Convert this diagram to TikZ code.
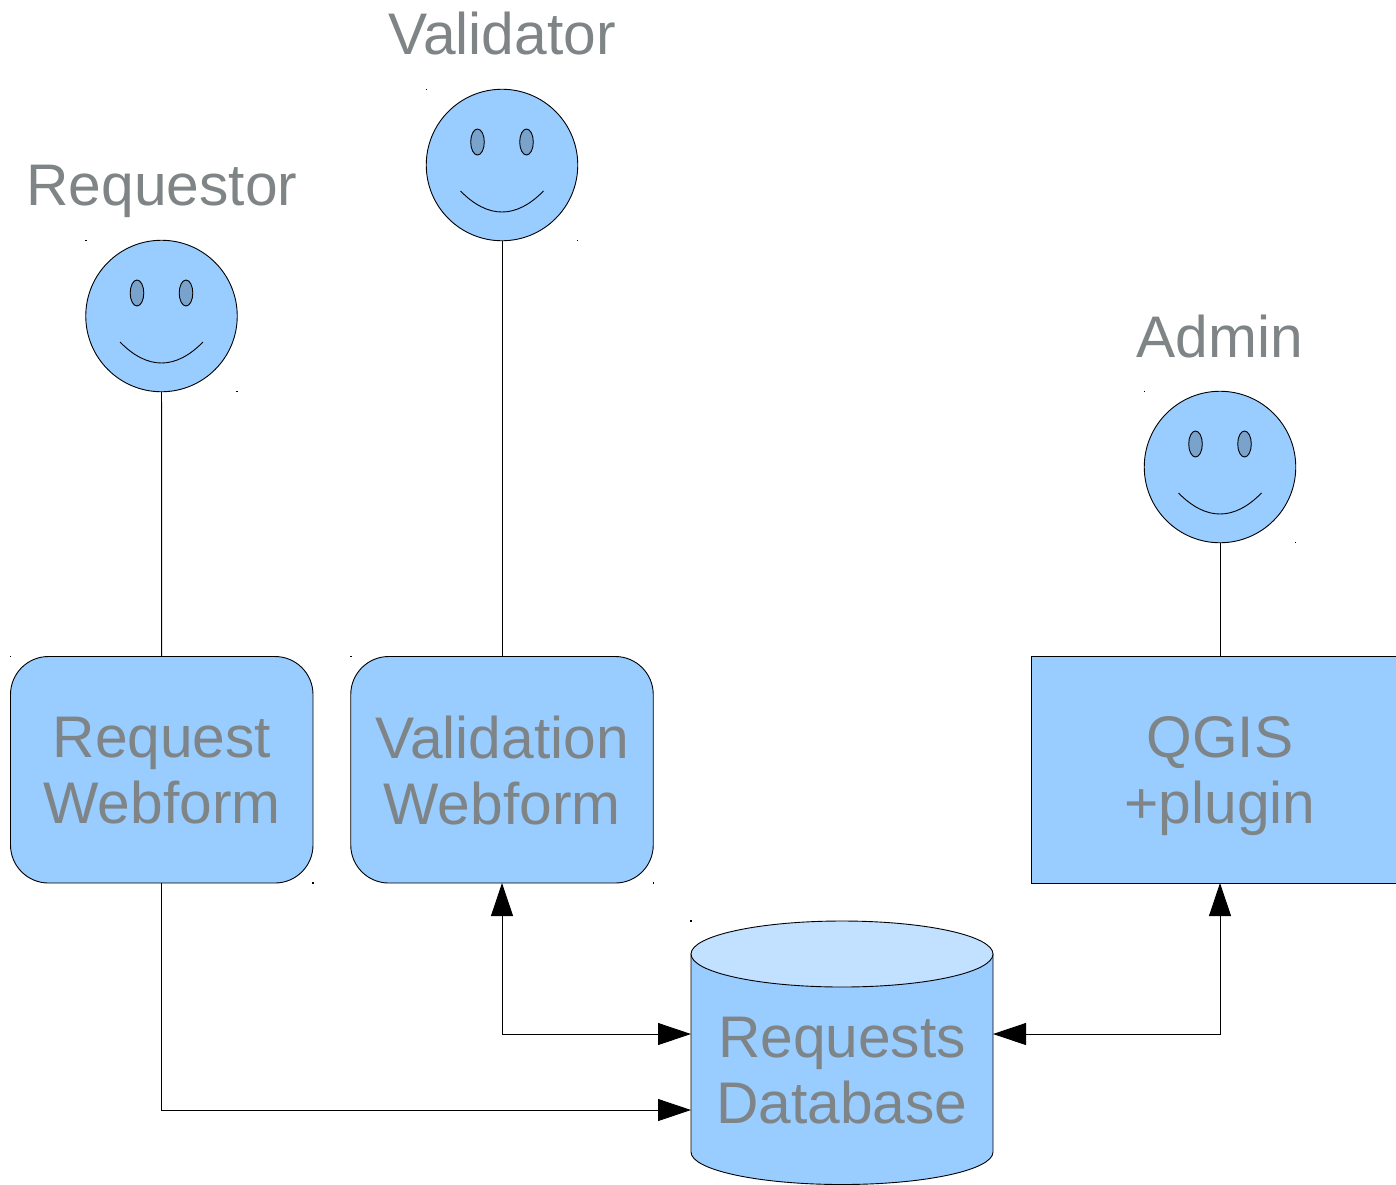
\documentclass[tikz,border=0pt]{standalone}
\usepackage{fontspec}
\setmainfont{Liberation Sans}
\usetikzlibrary{arrows.meta,calc}
\definecolor{bodyblue}{HTML}{99CCFF}
\definecolor{topblue}{HTML}{C2E0FF}
\definecolor{eyeblue}{HTML}{7AA3CC}
\definecolor{labelgray}{HTML}{7F8486}
\tikzset{
  x=1pt,y=-1pt,
  line/.style={draw=black,line width=0.9pt},
  conn/.style={line,{Triangle[length=33pt,width=22pt]}-{Triangle[length=33pt,width=22pt]}},
  connend/.style={line,-{Triangle[length=33pt,width=22pt]}},
  face/.style={circle,line,fill=bodyblue,minimum size=151.5pt,inner sep=0pt,outer sep=0pt},
  eye/.style={line,fill=eyeblue},
  speck/.style={fill=black,inner sep=0pt,minimum size=1.5pt,draw=none},
  roundbox/.style={line,fill=bodyblue,rounded corners=38pt,minimum width=302.5pt,minimum height=226.5pt,inner sep=0pt,outer sep=0pt},
  squarebox/.style={line,fill=bodyblue,minimum height=226.5pt,inner sep=0pt,outer sep=0pt},
  boxtext/.style={text=labelgray,align=center,font=\fontsize{58.7}{65.5}\selectfont,inner sep=0pt},
  actor/.style={text=labelgray,font=\fontsize{58.7}{65.5}\selectfont,inner sep=0pt,anchor=base},
}
\newcommand{\smiley}[3]{%
  \node[face] (#1) at (#2,#3) {};
  \draw[eye] (#2-24.5,#3-23) ellipse [x radius=6.8,y radius=13];
  \draw[eye] (#2+24.5,#3-23) ellipse [x radius=6.8,y radius=13];
  \draw[line] (#2-41.5,#3+26) .. controls (#2-14,#3+54) and (#2+14,#3+54) .. (#2+41.5,#3+26);
  \node[speck] (#1tl) at (#2-75.5,#3-75.5) {};
  \node[speck] (#1br) at (#2+75.5,#3+75.5) {};
}
\begin{document}
\begin{tikzpicture}
\useasboundingbox (0,0) rectangle (1396,1184);
% actors
\smiley{requestor}{161.5}{316}
\smiley{validator}{502}{165}
\smiley{admin}{1220}{467}
\node[actor] (lreq) at (162,205) {Requestor};
\node[actor] (lval) at (502,54) {Validator};
\node[actor] (ladm) at (1220,357) {Admin};
% boxes
\node[roundbox] (reqbox) at (161.75,769.75) {};
\node[roundbox] (valbox) at (502,769.75) {};
\node[squarebox,minimum width=366pt] (qgis) at (1214,769.75) {};
\node[boxtext] (reqtxt) at (162,770.5) {Request\\Webform};
\node[boxtext] (valtxt) at (502,770.5) {Validation\\Webform};
\node[boxtext] (qgistxt) at (1220,776) {QGIS\\+plugin};
\node[speck] at (10.5,656.5) {};
\node[speck] at (313,883) {};
\node[speck] at (351,656.5) {};
\node[speck] at (653.5,883) {};
\node[speck] at (691,921) {};
% database
\draw[line,fill=bodyblue] (691,954) -- (691,1152) arc [start angle=180,end angle=0,x radius=151,y radius=32.5] -- (993,954) -- cycle;
\draw[line,fill=topblue] (842,954) ellipse [x radius=151,y radius=33];
\node[boxtext] (db) at (842,1070.5) {Requests\\Database};
\coordinate (dbvalid) at (691,1034);
\coordinate (dbreq) at (691,1110);
\coordinate (dbqgis) at (993,1034);
\coordinate (qgisport) at (1220,883);
\coordinate (qgistop) at (1220,656.5);
% connectors
\draw[line] (requestor) -- (reqbox);
\draw[line] (validator) -- (valbox);
\draw[line] (admin) -- (qgistop);
\draw[connend] (reqbox.south) |- (dbreq);
\draw[conn] (valbox.south) |- (dbvalid);
\draw[conn] (qgisport) |- (dbqgis);
\end{tikzpicture}
\end{document}
